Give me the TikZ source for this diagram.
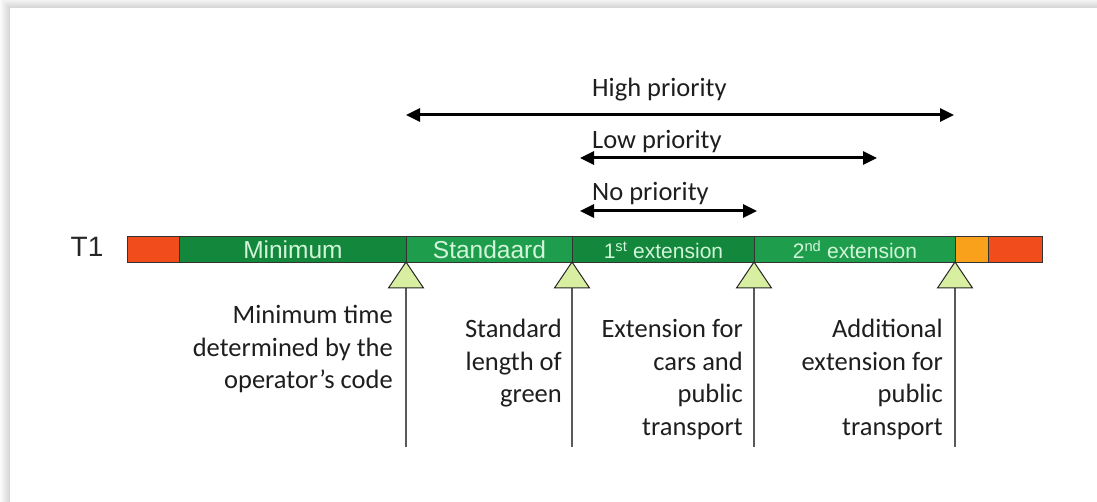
\documentclass[tikz,border=0pt]{standalone}
\usepackage{fontspec}
\setmainfont{Carlito}
\newfontfamily\arialfont{Liberation Sans}
\usetikzlibrary{arrows.meta}

\definecolor{phasered}{HTML}{F04C1C}
\definecolor{phaseamber}{HTML}{F9A11B}
\definecolor{greendark}{HTML}{13883C}
\definecolor{greenlight}{HTML}{1E9E4C}
\definecolor{barlabel}{HTML}{D2F5DA}
\definecolor{markfill}{HTML}{D8EFA2}
\definecolor{note}{HTML}{1E1E1E}

\begin{document}
\begin{tikzpicture}[x=1pt,y=-1pt,
  seg/.style={rectangle, anchor=west, inner xsep=0pt, inner ysep=0pt,
    minimum height=26pt, text height=23pt, text depth=3pt,
    draw=black!80, line width=0.9pt, text=barlabel,
    font=\arialfont\fontsize{24.5}{24.5}\selectfont},
  marker/.style={draw=black!85, line width=1pt, fill=markfill, line join=miter},
  leader/.style={draw=black!65, line width=1.3pt},
  prio/.style={line width=3pt, {Triangle[length=14pt,width=13pt]}-{Triangle[length=14pt,width=13pt]}},
  priolabel/.style={anchor=base west, inner sep=0pt, text=note,
    font=\fontsize{26.5}{30}\selectfont},
  notelabel/.style={anchor=north east, inner sep=0pt, align=right, text=note,
    font=\fontsize{26.5}{32.6}\selectfont}
]
\useasboundingbox (0,0) rectangle (1097,502);

% page with a soft drop shadow along the top and left edges
\fill[white] (0,0) rectangle (1097,502);
\foreach \i in {1,...,10}
  \fill[black, opacity=0.016] ({10-\i},{8-\i}) rectangle (1097,502);
\fill[white] (10,8) rectangle (1097,502);

% signal group name
\node[font=\arialfont\fontsize{28}{28}\selectfont, text=black!85] (t1) at (87,247) {T1};

% phase bar
\node[seg, fill=phasered,   minimum width=52pt]  (red1) at (127,249) {};
\node[seg, fill=greendark,  minimum width=227pt] (minp) at (179,249) {Minimum};
\node[seg, fill=greenlight, minimum width=166pt] (stdp) at (406,249) {Standaard};
\node[seg, fill=greendark,  minimum width=182pt] (ext1) at (572,249) {\fontsize{21}{21}\selectfont 1\textsuperscript{st} extension};
\node[seg, fill=greenlight, minimum width=201pt] (ext2) at (754,249) {\fontsize{21}{21}\selectfont 2\textsuperscript{nd} extension};
\node[seg, fill=phaseamber, minimum width=33pt]  (ambr) at (955,249) {};
\node[seg, fill=phasered,   minimum width=54pt]  (red2) at (988,249) {};

% phase boundaries: marker triangles and leader lines
\foreach \nm/\xx in {ma/406, mb/572, mc/754, md/955} {
  \coordinate (\nm-top) at (\xx,262);
  \coordinate (\nm-base) at (\xx,288);
  \coordinate (\nm-end) at (\xx,447);
  \draw[leader] (\nm-base) -- (\nm-end);
  \draw[marker] (\nm-top) -- ++(-17.5,26) -- ++(35,0) -- cycle;
}

% priority ranges
\coordinate (hi-l) at (406,115);  \coordinate (hi-r) at (954,115);
\coordinate (lo-l) at (580,158);  \coordinate (lo-r) at (877,158);
\coordinate (no-l) at (580,211);  \coordinate (no-r) at (757,211);
\draw[prio] (hi-l) -- (hi-r);
\draw[prio] (lo-l) -- (lo-r);
\draw[prio] (no-l) -- (no-r);
\node[priolabel] (hi-t) at (592,97)  {High priority};
\node[priolabel] (lo-t) at (592,149) {Low priority};
\node[priolabel] (no-t) at (592,201) {No priority};

% explanations below the bar
\node[notelabel] (n1) at (393,305) {Minimum time\\determined by the\\operator’s code};
\node[notelabel] (n2) at (562,319) {Standard\\length of\\green};
\node[notelabel] (n3) at (743,319) {Extension for\\cars and\\public\\transport};
\node[notelabel] (n4) at (943,319) {Additional\\extension for\\public\\transport};
\end{tikzpicture}
\end{document}
